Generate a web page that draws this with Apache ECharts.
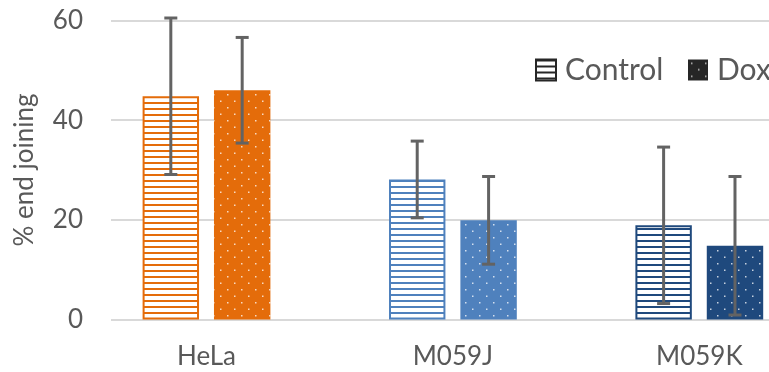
<!DOCTYPE html>
<html>
<head>
<meta charset="utf-8">
<script src="https://cdn.jsdelivr.net/npm/echarts@6/dist/echarts.min.js"></script>
<style>html,body{margin:0;padding:0;background:#fff}#c{width:769px;height:372px}</style>
</head>
<body>
<div id="c"></div>
<script>
const categories = ['HeLa', 'M059J', 'M059K'];
const controlValues = [44.8, 28.1, 18.9];
const controlErrors = [15.7, 7.7, 15.7];
const doxValues = [46.0, 19.9, 14.8];
const doxErrors = [10.6, 8.8, 13.9];
const yTicks = [0, 20, 40, 60];
const categoryColors = ['#E46C0A', '#4F81BD', '#1F497D'];
const legendColor = '#262626';

function stripePattern(color) {
  const c = document.createElement('canvas');
  c.width = 8; c.height = 6;
  const g = c.getContext('2d');
  g.fillStyle = '#ffffff'; g.fillRect(0, 0, 8, 6);
  g.fillStyle = color; g.fillRect(0, 0, 8, 2);
  return { image: c, repeat: 'repeat' };
}
function dotPattern(color) {
  const c = document.createElement('canvas');
  c.width = 14; c.height = 13;
  const g = c.getContext('2d');
  g.fillStyle = color; g.fillRect(0, 0, 14, 13);
  g.fillStyle = 'rgba(255,255,255,0.75)';
  g.fillRect(3, 3, 1.5, 1.5);
  g.fillRect(10, 9.5, 1.5, 1.5);
  return { image: c, repeat: 'repeat' };
}

const chart = echarts.init(document.getElementById('c'), null, { renderer: 'canvas' });
const FONT = 'Lato';
const TXT = '#595959';
const BAR_W = 0.229, GAP = 0.265;

function errSeries(name, values, errors, sign) {
  return {
    type: 'custom', name: name + ' err', xAxisIndex: 0, yAxisIndex: 0, z: 5,
    data: values.map((v, i) => [i, v - errors[i], v + errors[i]]),
    renderItem: function (params, api) {
      const band = api.size([1, 0])[0];
      const off = sign * band * BAR_W * (1 + GAP) / 2;
      const lo = api.coord([api.value(0), api.value(1)]);
      const hi = api.coord([api.value(0), api.value(2)]);
      const x = lo[0] + off, cap = 6.5;
      const st = { stroke: '#636363', lineWidth: 3 };
      return { type: 'group', children: [
        { type: 'line', shape: { x1: x, y1: lo[1], x2: x, y2: hi[1] }, style: st },
        { type: 'line', shape: { x1: x - cap, y1: hi[1], x2: x + cap, y2: hi[1] }, style: st },
        { type: 'line', shape: { x1: x - cap, y1: lo[1], x2: x + cap, y2: lo[1] }, style: st }
      ]};
    },
    silent: true
  };
}

const legendBase = {
  top: 55, padding: 0, itemWidth: 20, itemHeight: 21, icon: 'rect',
  textStyle: { fontFamily: FONT, fontSize: 30, color: TXT, padding: [0, 0, 0, 4] }
};

const option = {
  animation: false,
  textStyle: { fontFamily: FONT },
  grid: [
    { left: 83.3, width: 739.2, top: 20.5, bottom: 52.5, outerBoundsMode: 'none', containLabel: false },
    { left: 111, right: 0, top: 20.5, bottom: 52.5, outerBoundsMode: 'none', containLabel: false }
  ],
  legend: [
    Object.assign({}, legendBase, { left: 535,
      data: [{ name: 'Control', itemStyle: { color: stripePattern(legendColor), borderColor: legendColor, borderWidth: 2 } }] }),
    Object.assign({}, legendBase, { left: 688,
      data: [{ name: 'Dox', itemStyle: { color: dotPattern(legendColor), borderColor: legendColor, borderWidth: 0 } }] })
  ],
  xAxis: [
    { type: 'category', gridIndex: 0, data: categories,
      axisLine: { show: false }, axisTick: { show: false },
      axisLabel: { fontFamily: FONT, fontSize: 26, color: TXT, margin: 24 } },
    { type: 'value', gridIndex: 1, min: 0, max: 1, show: false }
  ],
  yAxis: [
    { type: 'value', gridIndex: 0, min: 0, max: 60, show: false },
    { type: 'value', gridIndex: 1, min: yTicks[0], max: yTicks[yTicks.length - 1], interval: 20,
      axisLine: { show: false }, axisTick: { show: false },
      splitLine: { lineStyle: { color: '#D9D9D9', width: 2 } },
      axisLabel: { fontFamily: FONT, fontSize: 26, color: TXT, margin: 28 },
      name: '% end joining', nameLocation: 'middle', nameRotate: 90, nameGap: 73,
      nameTextStyle: { fontFamily: FONT, fontSize: 26, color: TXT } }
  ],
  series: [
    { type: 'bar', name: 'Control', xAxisIndex: 0, yAxisIndex: 0,
      barWidth: (BAR_W * 100) + '%', barGap: (GAP * 100) + '%',
      itemStyle: { color: stripePattern(legendColor), borderColor: legendColor, borderWidth: 2 },
      data: controlValues.map((v, i) => ({ value: v, itemStyle: { color: stripePattern(categoryColors[i]), borderColor: categoryColors[i], borderWidth: 2 } })) },
    { type: 'bar', name: 'Dox', xAxisIndex: 0, yAxisIndex: 0,
      barWidth: (BAR_W * 100) + '%', barGap: (GAP * 100) + '%',
      itemStyle: { color: dotPattern(legendColor) },
      data: doxValues.map((v, i) => ({ value: v, itemStyle: { color: dotPattern(categoryColors[i]) } })) },
    errSeries('Control', controlValues, controlErrors, -1),
    errSeries('Dox', doxValues, doxErrors, 1)
  ]
};
chart.setOption(option);
</script>
</body>
</html>
